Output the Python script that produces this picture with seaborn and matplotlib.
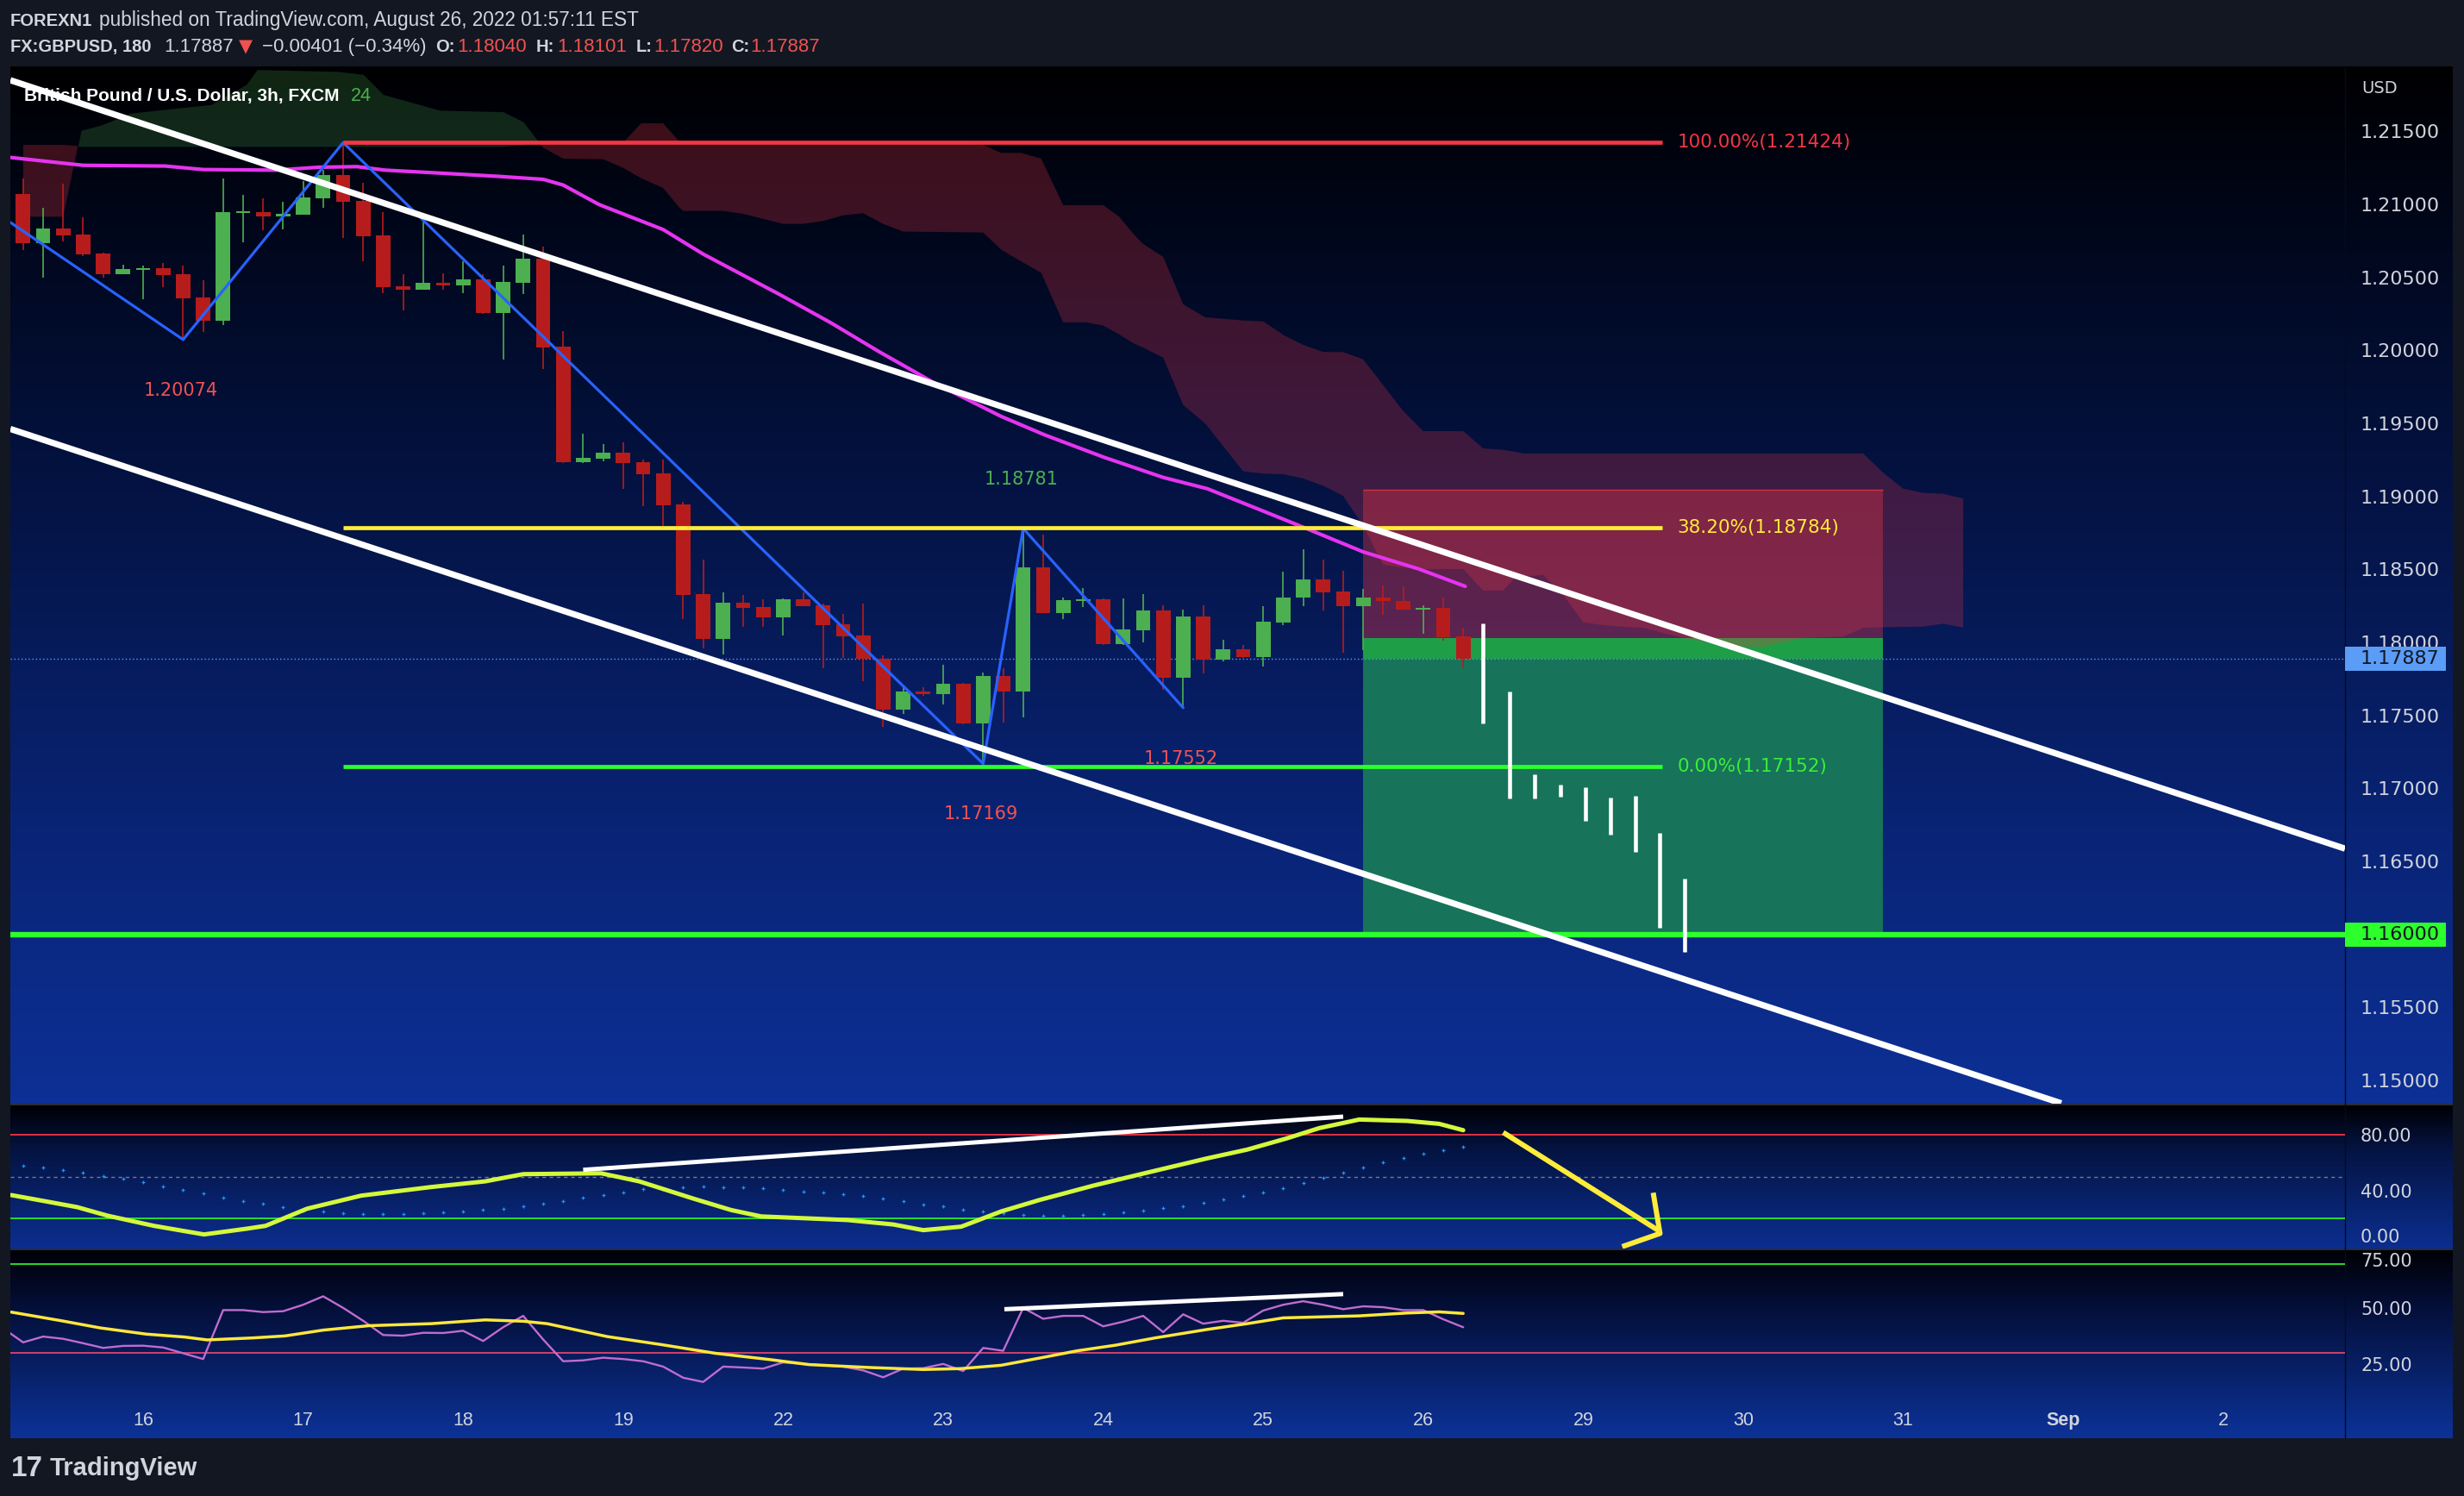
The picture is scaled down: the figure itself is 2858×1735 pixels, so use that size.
import numpy as np
import matplotlib
matplotlib.use("Agg")
import matplotlib.pyplot as plt
import seaborn as sns
from matplotlib.colors import LinearSegmentedColormap
from matplotlib.patches import Rectangle
from matplotlib.transforms import blended_transform_factory as blend

sns.set_theme(style="dark")
plt.rcParams['font.family'] = ['Liberation Sans', 'DejaVu Sans']

# ---------------- data (3h bars, index 0 = first bar of Aug 16) ----------------
bar_idx = list(range(-6, 67))
opens = [1.21072, 1.20737, 1.20836, 1.20794, 1.20664, 1.20524, 1.20554, 1.20564, 1.20522, 1.20363,
         1.20205, 1.20942, 1.20948, 1.20918, 1.20932, 1.21042, 1.21203, 1.21025, 1.20790, 1.20440,
         1.20416, 1.20463, 1.20446, 1.20489, 1.20258, 1.20463, 1.20629, 1.20026, 1.19235, 1.19260,
         1.19300, 1.19235, 1.19158, 1.18945, 1.18331, 1.18026, 1.18272, 1.18243, 1.18173, 1.18296,
         1.18254, 1.18124, 1.18047, 1.17886, 1.17541, 1.17664, 1.17646, 1.17717, 1.17447, 1.17770,
         1.17665, 1.18514, 1.18203, 1.18286, 1.18296, 1.17990, 1.18085, 1.18219, 1.17758, 1.18178,
         1.17882, 1.17951, 1.17902, 1.18138, 1.18306, 1.18431, 1.18349, 1.18247, 1.18309, 1.18282,
         1.18223, 1.18237, 1.18040]
highs = [1.21180, 1.20977, 1.21143, 1.20912, 1.20670, 1.20589, 1.20582, 1.20599, 1.20582, 1.20481,
         1.21180, 1.21066, 1.21042, 1.21019, 1.21160, 1.21239, 1.21424, 1.21150, 1.20948, 1.20524,
         1.20906, 1.20530, 1.20611, 1.20522, 1.20582, 1.20794, 1.20713, 1.20133, 1.19431, 1.19359,
         1.19371, 1.19253, 1.19253, 1.18965, 1.18567, 1.18345, 1.18325, 1.18296, 1.18300, 1.18345,
         1.18266, 1.18197, 1.18266, 1.17912, 1.17695, 1.17695, 1.17849, 1.17725, 1.17794, 1.17823,
         1.18781, 1.18739, 1.18307, 1.18374, 1.18300, 1.18301, 1.18331, 1.18256, 1.18227, 1.18256,
         1.18020, 1.17981, 1.18250, 1.18483, 1.18640, 1.18566, 1.18492, 1.18368, 1.18388, 1.18384,
         1.18256, 1.18309, 1.18101]
lows = [1.20688, 1.20501, 1.20747, 1.20648, 1.20501, 1.20524, 1.20353, 1.20434, 1.20074, 1.20127,
        1.20176, 1.20743, 1.20825, 1.20830, 1.20932, 1.20977, 1.20771, 1.20611, 1.20393, 1.20274,
        1.20416, 1.20416, 1.20393, 1.20251, 1.19939, 1.20387, 1.19871, 1.19231, 1.19231, 1.19241,
        1.19053, 1.18935, 1.18798, 1.18160, 1.17961, 1.17918, 1.18108, 1.18108, 1.18049, 1.18250,
        1.17823, 1.17892, 1.17735, 1.17420, 1.17508, 1.17636, 1.17577, 1.17440, 1.17169, 1.17449,
        1.17488, 1.18203, 1.18160, 1.18243, 1.17985, 1.17985, 1.18000, 1.17675, 1.17552, 1.17789,
        1.17872, 1.17892, 1.17837, 1.18118, 1.18250, 1.18217, 1.17928, 1.17945, 1.18188, 1.18223,
        1.18059, 1.18010, 1.17820]
closes = [1.20737, 1.20836, 1.20790, 1.20658, 1.20524, 1.20558, 1.20564, 1.20517, 1.20357, 1.20205,
          1.20948, 1.20948, 1.20918, 1.20935, 1.21048, 1.21203, 1.21019, 1.20782, 1.20436, 1.20416,
          1.20463, 1.20446, 1.20489, 1.20258, 1.20469, 1.20629, 1.20022, 1.19235, 1.19265, 1.19300,
          1.19231, 1.19152, 1.18941, 1.18325, 1.18026, 1.18272, 1.18238, 1.18173, 1.18296, 1.18250,
          1.18118, 1.18043, 1.17886, 1.17541, 1.17664, 1.17646, 1.17717, 1.17447, 1.17770, 1.17665,
          1.18514, 1.18203, 1.18290, 1.18296, 1.17990, 1.18089, 1.18219, 1.17758, 1.18178, 1.17882,
          1.17951, 1.17902, 1.18142, 1.18306, 1.18431, 1.18345, 1.18247, 1.18309, 1.18282, 1.18223,
          1.18237, 1.18034, 1.17887]

# projected "ghost" bars
ghost_x = [67.0, 68.3, 69.55, 70.85, 72.1, 73.35, 74.6, 75.8, 77.05]
ghost_hi = [1.18131, 1.17665, 1.17097, 1.17026, 1.17008, 1.16937, 1.16949, 1.16697, 1.16379]
ghost_lo = [1.17445, 1.16928, 1.16928, 1.16940, 1.16778, 1.16683, 1.16565, 1.16045, 1.15882]

# zigzag
zigzag_x = [-6.64, 2, 10, 42, 44, 52]
zigzag_y = [1.20877, 1.20074, 1.21424, 1.17169, 1.18781, 1.17552]

# moving average (magenta)
ma_x = [-6.64, -3.0, 1.1, 3.0, 6.6, 8.8, 10.7, 12.1, 14.8, 17.8, 20, 21, 22.8, 26, 28, 31.8,
        34.4, 36.8, 39.6, 42.9, 45.1, 48, 51, 53.2, 55.7, 58.2, 61, 63.8, 66.1]
ma_y = [1.21322, 1.21268, 1.21263, 1.21239, 1.21235, 1.21255, 1.21259, 1.21235, 1.21215, 1.21192,
        1.21172, 1.21133, 1.20999, 1.20828, 1.20660, 1.20385, 1.20188, 1.19991, 1.19774, 1.19548,
        1.19420, 1.19270, 1.19130, 1.19053, 1.18916, 1.18778, 1.18620, 1.18502, 1.18384]

# ichimoku cloud
cloud_x = [-6, -4, -3.1, -2.05, -0.65, 2, 3.4, 5.16, 5.7, 9.73, 11, 12, 14.84, 18, 19, 20, 21, 23,
           24, 24.9, 26, 26.8, 27, 29, 30, 32, 33, 34, 35, 36, 37, 38, 42, 42.9, 43.9, 44.9, 46,
           47.2, 48, 48.8, 49.5, 50, 51, 52, 53.1, 55, 56, 57, 58, 59, 60, 61, 62, 63, 64, 66, 67,
           68, 68.6, 69, 70, 71, 72, 73, 75, 77, 79.5, 81, 83, 85, 86, 87, 88, 89, 90, 91]
span_a = [1.20916, 1.20916, 1.21507, 1.21546, 1.21625, 1.21664, 1.21684, 1.21822, 1.21924, 1.21911,
          1.21891, 1.21753, 1.21645, 1.21635, 1.21566, 1.21389, 1.21314, 1.21310, 1.21251, 1.21180,
          1.21113, 1.20980, 1.20956, 1.20956, 1.20936, 1.20867, 1.20867, 1.20887, 1.20926, 1.20940,
          1.20867, 1.20814, 1.20808, 1.20690, 1.20610, 1.20532, 1.20192, 1.20192, 1.20170, 1.20110,
          1.20050, 1.20020, 1.19951, 1.19626, 1.19500, 1.19172, 1.19156, 1.19152, 1.19123, 1.19073,
          1.19004, 1.18798, 1.18532, 1.18512, 1.18502, 1.18502, 1.18355, 1.18355, 1.18443, 1.18450,
          1.18463, 1.18325, 1.18138, 1.18118, 1.18099, 1.18030, 1.17971, 1.17971, 1.18030, 1.18040,
          1.18099, 1.18104, 1.18106, 1.18108, 1.18128, 1.18102]
span_b = [1.21408, 1.21408, 1.21398, 1.21398, 1.21398, 1.21398, 1.21398, 1.21398, 1.21398, 1.21398,
          1.21398, 1.21398, 1.21398, 1.21398, 1.21410, 1.21424, 1.21424, 1.21424, 1.21424, 1.21556,
          1.21556, 1.21432, 1.21424, 1.21420, 1.21420, 1.21420, 1.21420, 1.21420, 1.21420, 1.21420,
          1.21420, 1.21420, 1.21408, 1.21353, 1.21353, 1.21314, 1.20995, 1.20995, 1.20995, 1.20916,
          1.20800, 1.20729, 1.20641, 1.20316, 1.20227, 1.20205, 1.20199, 1.20107, 1.20038, 1.19989,
          1.19989, 1.19939, 1.19762, 1.19585, 1.19447, 1.19447, 1.19329, 1.19319, 1.19305, 1.19294,
          1.19294, 1.19294, 1.19294, 1.19294, 1.19294, 1.19294, 1.19294, 1.19294, 1.19294, 1.19294,
          1.19294, 1.19162, 1.19053, 1.19024, 1.19018, 1.18985]

# drawings
channel_up_x, channel_up_y = [-6.64, 110.09], [1.21851, 1.16587]
channel_lo_x, channel_lo_y = [-6.64, 95.9], [1.19462, 1.14843]
fib_x = [10, 75.94]
fib_levels = [1.21424, 1.18784, 1.17152]
fib_text = ["100.00%(1.21424)", "38.20%(1.18784)", "0.00%(1.17152)"]
fib_line_colors = ["#f23645", "#ffeb3b", "#2cff2c"]
fib_text_colors = ["#f23645", "#ffeb3b", "#3aee3a"]
pivot_text = ["1.20074", "1.18781", "1.17169", "1.17552"]
pivot_x = [1.87, 43.9, 41.9, 51.9]
pivot_y = [1.19725, 1.19117, 1.16825, 1.17203]
pivot_colors = ["#f05252", "#4caf50", "#f05252", "#f05252"]
pos_x = [61, 87]
pos_entry, pos_stop, pos_target = 1.18031, 1.19048, 1.16000
last_price = 1.17887

price_ticks = [1.150, 1.155, 1.160, 1.165, 1.170, 1.175, 1.180, 1.185, 1.190, 1.195, 1.200,
               1.205, 1.210, 1.215]
price_labels = ["1.15000", "1.15500", "1.16000", "1.16500", "1.17000", "1.17500", "1.18000",
                "1.18500", "1.19000", "1.19500", "1.20000", "1.20500", "1.21000", "1.21500"]
day_idx = [0, 8, 16, 24, 32, 40, 48, 56, 64, 72, 80, 88, 96, 104]
day_labels = ["16", "17", "18", "19", "22", "23", "24", "25", "26", "29", "30", "31", "Sep", "2"]

# oscillator panel
osc_x = [-6.6, -4.84, -3.3, -1.77, 0.54, 3.04, 5.16, 6.12, 8.2, 10.9, 14.4, 17.1, 19, 22.9, 24.8,
         27.5, 29.4, 30.9, 35.2, 37.5, 39, 40.9, 42.9, 44.8, 47.5, 50.2, 53.2, 55.2, 57.2, 58.8,
         60.8, 63.2, 64.8, 66.0]
osc_k = [36.7, 32.1, 28.0, 21.8, 14.5, 8.3, 12.4, 14.5, 26.9, 36.3, 42.5, 46.6, 51.8, 52.4, 46.6,
         34.2, 25.9, 21.3, 18.7, 15.5, 11.4, 13.9, 24.9, 33.1, 43.5, 52.9, 63.2, 69.5, 77.7, 85.0,
         91.2, 90.2, 88.1, 83.5]
osc_dots = [58.0, 56.6, 54.5, 52.9, 50.4, 48.3, 46.2, 42.9, 40.4, 37.9,
            34.8, 32.1, 30.5, 28.0, 25.5, 24.7, 23.8, 23.2, 22.8, 22.8,
            23.4, 24.3, 24.9, 25.9, 26.9, 28.8, 30.5, 32.1, 34.6, 36.7,
            38.3, 40.8, 41.3, 42.3, 42.7, 42.5, 42.1, 41.5, 40.4, 39.4,
            38.3, 37.1, 35.9, 34.2, 32.6, 30.0, 28.4, 26.3, 25.1, 23.4,
            22.4, 21.8, 21.8, 22.4, 23.2, 24.3, 25.3, 27.2, 28.8, 30.9,
            33.6, 35.9, 38.3, 41.5, 45.2, 49.1, 52.9, 56.4, 60.1, 63.2,
            66.3, 69.0, 71.5]
osc_trend_x, osc_trend_y = [22.0, 60.0], [54.9, 93.3]
arrow_x, arrow_y = [68.0, 75.84], [81.9, 10.4]
arrow_head_x, arrow_head_y = [75.5, 75.84, 73.95], [38.4, 9.0, -0.5]

# RSI panel
rsi_idx = list(range(-7, 67))
rsi = [41.0, 34.7, 37.3, 36.3, 34.3, 32.2, 33.1, 33.2, 32.4, 29.8, 27.2,
       49.2, 49.2, 48.3, 48.7, 51.6, 55.4, 50.2, 44.4, 38.0, 37.7,
       39.0, 38.9, 39.9, 35.3, 41.5, 46.6, 36.0, 26.2, 26.6, 27.8,
       27.2, 26.2, 23.8, 18.8, 16.9, 23.8, 23.4, 22.9, 25.7, 25.0,
       24.4, 23.8, 22.1, 19.0, 22.9, 23.1, 25.0, 21.8, 32.2, 30.9,
       50.2, 45.3, 46.6, 46.6, 41.9, 44.0, 46.6, 39.3, 47.3, 43.1,
       44.4, 43.5, 49.0, 51.6, 53.2, 51.6, 49.6, 50.9, 50.5, 49.2,
       49.2, 45.1, 41.5]
rsi_ma_x = [-6.6, -4.08, -2.15, 0.16, 2.07, 3.2, 5.5, 7.1, 9, 11.3, 14.4, 17.1, 19, 20.2, 23.2,
            25.9, 28.6, 31.3, 33.3, 36.3, 39, 40.9, 42.9, 44.8, 46.7, 48.6, 50.6, 53.2, 55.2, 57,
            60.8, 63.2, 64.8, 66]
rsi_ma = [48.3, 44.4, 41.2, 38.4, 37.1, 35.8, 36.7, 37.6, 40.2, 42.2, 43.1, 44.8, 44.2, 43.1, 37.3,
          33.7, 29.8, 27.0, 24.7, 23.4, 22.5, 22.9, 24.4, 27.6, 30.9, 33.4, 36.7, 40.5, 43.1, 45.7,
          46.6, 47.9, 48.4, 47.7]
rsi_trend_x, rsi_trend_y = [43.06, 60.0], [49.6, 56.4]

# ---------------- figure ----------------
W, H = 2858, 1735
fig = plt.figure(figsize=(W / 100, H / 100), dpi=100)
fig.patch.set_facecolor('#131722')
LIGHT = '#d1d4dc'
RED_TXT = '#f0524f'
XL = (-6.64, 110.09)


def frac(x0, y0, x1, y1):
    return [x0 / W, 1 - y1 / H, (x1 - x0) / W, (y1 - y0) / H]


bg = fig.add_axes([0, 0, 1, 1])
bg.axis('off')


def gradient(y0, y1, stops):
    cmap = LinearSegmentedColormap.from_list('g', stops)
    bg.imshow(np.linspace(0, 1, 256).reshape(-1, 1), extent=[12, 2845, y1, y0], cmap=cmap,
              aspect='auto', interpolation='bilinear', origin='upper', zorder=0)


gradient(78, 1280, [(0, '#000002'), (0.18, '#01081f'), (0.35, '#03103a'), (0.72, '#092373'), (1, '#0d3096')])
gradient(1281, 1448, [(0, '#000004'), (0.3, '#041340'), (1, '#0b2e90')])
gradient(1449, 1668, [(0, '#000004'), (0.3, '#040f38'), (1, '#0c3298')])
bg.hlines([1280.5, 1448.5], 12, 2845, colors='#2a2e39', lw=1.4, zorder=1)
bg.vlines(2720, 78, 1668, colors='#070b1a', lw=1.0, zorder=1)
bg.set_xlim(0, W)
bg.set_ylim(H, 0)

hdr1 = [(11.7, "FOREXN1", LIGHT, 'bold', 14.5),
        (115, "published on TradingView.com, August 26, 2022 01:57:11 EST", LIGHT, 'normal', 16.3)]
hdr2 = [(11.7, "FX:GBPUSD, 180", LIGHT, 'bold', 14.5), (190.7, "1.17887", LIGHT, 'normal', 16),
        (304, "−0.00401 (−0.34%)", LIGHT, 'normal', 16),
        (505, "O:", LIGHT, 'bold', 14.5), (530, "1.18040", RED_TXT, 'normal', 16),
        (621.7, "H:", LIGHT, 'bold', 14.5), (646.7, "1.18101", RED_TXT, 'normal', 16),
        (738, "L:", LIGHT, 'bold', 14.5), (758, "1.17820", RED_TXT, 'normal', 16),
        (848, "C:", LIGHT, 'bold', 14.5), (870.7, "1.17887", RED_TXT, 'normal', 16)]
for x, s, c, w, fs in hdr1:
    bg.text(x, 30, s, color=c, fontsize=fs, fontweight=w, va='baseline')
for x, s, c, w, fs in hdr2:
    bg.text(x, 60, s, color=c, fontsize=fs, fontweight=w, va='baseline')
bg.text(277, 60, "▼", color=RED_TXT, fontsize=15, family='DejaVu Sans', va='baseline')

bg.text(2739, 102, "USD", color=LIGHT, fontsize=14, family='DejaVu Sans', va='center')
bg.text(13, 1703, "17", color=LIGHT, fontsize=24, fontweight='bold', va='center')
bg.text(58, 1703, "TradingView", color=LIGHT, fontsize=21, fontweight='bold', va='center')

# ---------------- main price pane ----------------
ax = fig.add_axes(frac(12, 78.3, 2720, 1280))
ax2 = fig.add_axes(frac(12, 1282, 2720, 1448))
ax3 = fig.add_axes(frac(12, 1450, 2720, 1668))
for a in (ax, ax2, ax3):
    a.set_facecolor('none')
    for s in a.spines.values():
        s.set_visible(False)
    a.grid(False)

# position tool boxes
ax.fill_between(pos_x, pos_target, last_price, color='#17735a', lw=0, zorder=1)
ax.fill_between(pos_x, last_price, pos_entry, color='#1e9e46', lw=0, zorder=1)
ax.fill_between(pos_x, pos_entry, pos_stop, color='#f23645', alpha=0.36, lw=0, zorder=1)
ax.hlines(pos_stop, pos_x[0], pos_x[1], colors='#c8303f', lw=1.0, zorder=1.1)

# cloud
ca, cb = np.array(span_a), np.array(span_b)
ax.fill_between(cloud_x, ca, cb, where=ca >= cb, interpolate=True, color='#4caf50', alpha=0.22, lw=0, zorder=2)
ax.fill_between(cloud_x, ca, cb, where=ca < cb, interpolate=True, color='#f23645', alpha=0.25, lw=0, zorder=2)

# current price dotted line
ax.axhline(last_price, color='#5b9cf6', lw=1.0, ls=(0, (1, 2)), zorder=3.5)

# candles
o, h, l, c = map(np.array, (opens, highs, lows, closes))
cols = np.where(c >= o, '#4caf50', '#b71c1c')
body = np.abs(c - o)
min_body = 0.00012
bottoms = np.minimum(o, c) - np.clip(min_body - body, 0, None) / 2
ax.vlines(bar_idx, l, h, colors=cols, lw=1.2, zorder=4)
ax.bar(bar_idx, np.maximum(body, min_body), bottom=bottoms, width=0.72, color=cols, lw=0, zorder=4.1)

# moving average and zigzag
sns.lineplot(x=ma_x, y=ma_y, ax=ax, color='#e534ef', lw=3.0, zorder=4.5)
sns.lineplot(x=zigzag_x, y=zigzag_y, ax=ax, color='#2962ff', lw=2.3, sort=False, estimator=None, zorder=5)

# fib levels
ax.hlines(fib_levels, fib_x[0], fib_x[1], colors=fib_line_colors, lw=3.4, zorder=5.5)
for lvl, txt, col in zip(fib_levels, fib_text, fib_text_colors):
    ax.text(76.7, lvl, txt, color=col, fontsize=15.5, family='DejaVu Sans', va='center', ha='left', zorder=7)

# target line
ax.axhline(pos_target, color='#2cff2c', lw=4.6, zorder=5.6)

# title (drawn under the channel line); only the tail "24" of the hidden value shows
ax.text(407, 116.7, "24", transform=bg.transData, color='#4caf50', fontsize=15.5, va='baseline', zorder=5.7)
ax.text(28.3, 116.7, "British Pound / U.S. Dollar, 3h, FXCM", transform=bg.transData, color='white',
        fontsize=15, fontweight='bold', va='baseline', zorder=5.8)

# channel
ax.plot(channel_up_x, channel_up_y, color='white', lw=5.2, solid_capstyle='butt', zorder=6)
ax.plot(channel_lo_x, channel_lo_y, color='white', lw=5.2, solid_capstyle='butt', zorder=6)

# ghost bars
ax.vlines(ghost_x, ghost_lo, ghost_hi, colors='white', lw=3.3, zorder=6.5)

# pivot labels
for txt, x, y, col in zip(pivot_text, pivot_x, pivot_y, pivot_colors):
    ax.text(x, y, txt, color=col, fontsize=15, family='DejaVu Sans', ha='center', va='center', zorder=7)

ax.set_xlim(*XL)
ax.set_ylim(1.14840, 1.21938)
ax.set_xticks([])
ax.yaxis.tick_right()
ax.set_yticks(price_ticks, labels=price_labels)
ax.tick_params(axis='y', length=0, pad=13, labelsize=16, labelcolor=LIGHT)
for t in ax.get_yticklabels():
    t.set_fontfamily('DejaVu Sans')
ax.set_xlabel('')
ax.set_ylabel('')

# price boxes on the axis
tr = blend(ax.transAxes, ax.transData)
hh = 14 * (1.21938 - 1.14840) / 1201.7
for price, fc in [(last_price, '#5b9cf6'), (pos_target, '#2cff2c')]:
    ax.add_patch(Rectangle((1.0, price - hh), 117 / 2708, 2 * hh, transform=tr, fc=fc, ec='none',
                           clip_on=False, zorder=8))
    ax.text(1.0 + 18 / 2708, price, f"{price:.5f}", transform=tr, color='#131722', fontsize=16,
            family='DejaVu Sans', va='center', ha='left', clip_on=False, zorder=9)

# ---------------- oscillator pane ----------------
ax2.axhline(80, color='#f23645', lw=1.3, zorder=1)
ax2.axhline(20, color='#2ee82e', lw=1.3, zorder=1)
ax2.axhline(50, color='#787b86', lw=1.0, ls=(0, (3, 3)), zorder=1)
sns.scatterplot(x=bar_idx, y=osc_dots, ax=ax2, marker='+', s=10, color='#2196f3', linewidth=0.9, zorder=2)
sns.lineplot(x=osc_x, y=osc_k, ax=ax2, color='#d4f83c', lw=3.6, zorder=3)
ax2.plot(osc_trend_x, osc_trend_y, color='white', lw=3.6, solid_capstyle='butt', zorder=4)
ax2.plot(arrow_x, arrow_y, color='#ffeb3b', lw=4.3, solid_capstyle='butt', zorder=4)
ax2.plot(arrow_head_x, arrow_head_y, color='#ffeb3b', lw=4.3, solid_capstyle='butt', zorder=4)
ax2.set_xlim(*XL)
ax2.set_ylim(-1.87, 101.4)
ax2.set_xticks([])
ax2.yaxis.tick_right()
ax2.set_yticks([0, 40, 80], labels=["0.00", "40.00", "80.00"])
ax2.tick_params(axis='y', length=0, pad=13, labelsize=15, labelcolor=LIGHT)
for t in ax2.get_yticklabels():
    t.set_fontfamily('DejaVu Sans')
ax2.get_yticklabels()[0].set_va('bottom')
ax2.set_xlabel('')
ax2.set_ylabel('')

# ---------------- RSI pane ----------------
ax3.axhline(70, color='#2ee82e', lw=1.3, zorder=1)
ax3.axhline(30, color='#e0456b', lw=1.3, zorder=1)
sns.lineplot(x=rsi_idx, y=rsi, ax=ax3, color='#c06cd0', lw=1.7, zorder=2)
sns.lineplot(x=rsi_ma_x, y=rsi_ma, ax=ax3, color='#ffe83b', lw=2.5, zorder=3)
ax3.plot(rsi_trend_x, rsi_trend_y, color='white', lw=3.6, solid_capstyle='butt', zorder=4)
ax3.set_xlim(*XL)
ax3.set_ylim(-8.4, 76.1)
ax3.set_xticks([])
ax3.yaxis.tick_right()
ax3.set_yticks([25, 50, 75], labels=["25.00", "50.00", "75.00"])
ax3.tick_params(axis='y', length=0, pad=13, labelsize=15, labelcolor=LIGHT)
for t in ax3.get_yticklabels():
    t.set_fontfamily('DejaVu Sans')
ax3.get_yticklabels()[2].set_va('top')
ax3.set_xlabel('')
ax3.set_ylabel('')
dtr = blend(ax3.transData, ax3.transAxes)
for x, lbl in zip(day_idx, day_labels):
    ax3.text(x, 0.07, lbl, transform=dtr, color=LIGHT, fontsize=15.5, ha='center', va='baseline',
             fontweight='bold' if lbl == 'Sep' else 'normal', zorder=5)

fig.savefig("out.png", dpi=100, facecolor=fig.get_facecolor())
